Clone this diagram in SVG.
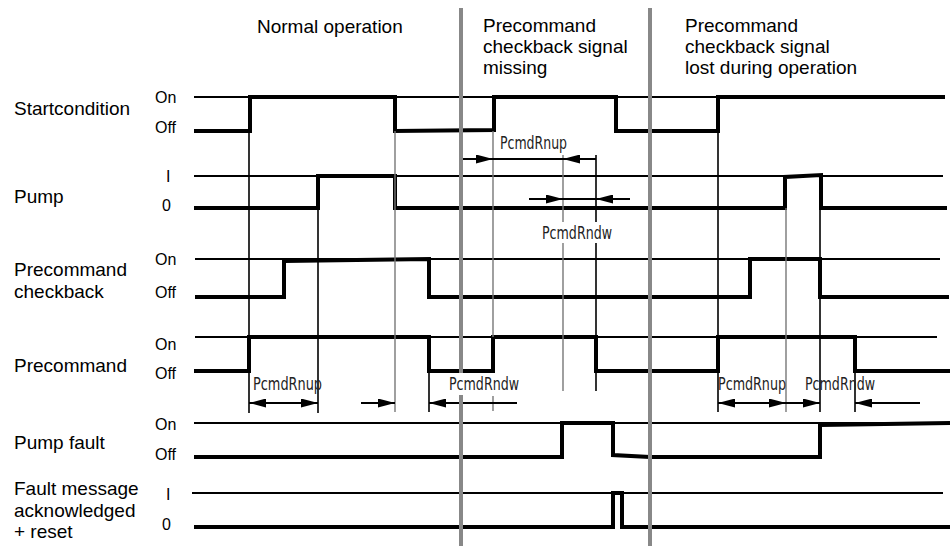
<svg xmlns="http://www.w3.org/2000/svg" width="950" height="546" viewBox="0 0 950 546">
<style>
text{font-family:"Liberation Sans",Arial,sans-serif;fill:#000}
.lab{font-size:19px}
.lvl{font-size:16px}
.par{font-family:"Liberation Sans Narrow","DejaVu Sans Condensed","Liberation Sans",sans-serif;font-size:18.5px;fill:#222}
.ref{stroke:#000;stroke-width:2;fill:none}
.sig{stroke:#000;stroke-width:4;fill:none;stroke-linejoin:miter;stroke-linecap:butt}
.gb{stroke:#000;stroke-width:1.6;fill:none}
.gg{stroke:#777;stroke-width:1.4;fill:none}
.arr{stroke:#000;stroke-width:2;fill:none}
.div{stroke:#888;stroke-width:4}
</style>
<defs>
<marker id="ah" viewBox="0 0 17 9" refX="17" refY="4.5" markerWidth="17" markerHeight="9" markerUnits="userSpaceOnUse" orient="auto-start-reverse">
<path d="M0,0 L17,4.5 L0,9 z" fill="#000"/>
</marker>
</defs>
<rect width="950" height="546" fill="#fff"/>

<g id="titles">
<text class="lab" x="257" y="33">Normal operation</text>
<text class="lab" x="483" y="32">Precommand</text>
<text class="lab" x="483" y="53">checkback signal</text>
<text class="lab" x="483" y="74">missing</text>
<text class="lab" x="685" y="32">Precommand</text>
<text class="lab" x="685" y="53">checkback signal</text>
<text class="lab" x="685" y="74">lost during operation</text>
</g>

<g id="startcondition">
<text class="lab" x="14" y="115">Startcondition</text>
<text class="lvl" x="155" y="103">On</text>
<text class="lvl" x="155" y="133">Off</text>
<line class="ref" x1="194" y1="97" x2="945" y2="97"/>
<path class="sig" d="M194,131 H250 V97 H395 V131 L494,130 V97 H616 V131 H718 V97 H945"/>
</g>

<g id="pump">
<text class="lab" x="14" y="203">Pump</text>
<text class="lvl" x="166" y="182">I</text>
<text class="lvl" x="162" y="211">0</text>
<line class="ref" x1="194" y1="176" x2="943" y2="176"/>
<path class="sig" d="M194,208 H318 V176 H395 V208 H785 V177 L821,175 V208 H947"/>
</g>

<g id="precommand-checkback">
<text class="lab" x="14" y="276">Precommand</text>
<text class="lab" x="14" y="298">checkback</text>
<text class="lvl" x="155" y="265">On</text>
<text class="lvl" x="155" y="298">Off</text>
<line class="ref" x1="195" y1="259" x2="940" y2="259"/>
<path class="sig" d="M195,297 H284 V261 L429,259 V297 H750 V259 H820 V297 H949"/>
</g>

<g id="precommand">
<text class="lab" x="14" y="372">Precommand</text>
<text class="lvl" x="155" y="350">On</text>
<text class="lvl" x="155" y="379">Off</text>
<line class="ref" x1="195" y1="337" x2="937" y2="337"/>
<path class="sig" d="M194,371 H249 V337 H429 V371 H493 V337 H596 V371 H718 V337 H855 V371 H950"/>
</g>

<g id="pump-fault">
<text class="lab" x="14" y="449">Pump fault</text>
<text class="lvl" x="155" y="430">On</text>
<text class="lvl" x="155" y="460">Off</text>
<line class="ref" x1="194" y1="423" x2="950" y2="423"/>
<path class="sig" d="M194,457 H562 V423 H613 V455 L650,457 H820 V425 L950,423"/>
</g>

<g id="fault-message">
<text class="lab" x="14" y="495">Fault message</text>
<text class="lab" x="14" y="517">acknowledged</text>
<text class="lab" x="14" y="538">+ reset</text>
<text class="lvl" x="166" y="500">I</text>
<text class="lvl" x="162" y="530">0</text>
<line class="ref" x1="192" y1="493" x2="943" y2="493"/>
<path class="sig" d="M194,527 H613 V493 H622 V527 H950"/>
</g>

<g id="connectors">
<g id="guides">
<line class="gb" x1="249" y1="131" x2="249" y2="413"/>
<line class="gb" x1="318" y1="176" x2="318" y2="413"/>
<line class="gb" x1="429" y1="371" x2="429" y2="412"/>
<line class="gb" x1="596" y1="155" x2="596" y2="337"/>
<line class="gb" x1="596" y1="371" x2="596" y2="391"/>
<line class="gb" x1="718" y1="131" x2="718" y2="412"/>
<line class="gb" x1="820" y1="208" x2="820" y2="412"/>
<line class="gb" x1="855" y1="371" x2="855" y2="412"/>
<line class="gg" x1="395" y1="131" x2="395" y2="412"/>
<line class="gg" x1="493" y1="131" x2="493" y2="337"/>
<line class="gg" x1="493" y1="396" x2="493" y2="411"/>
<line class="gg" x1="563" y1="155" x2="563" y2="391"/>
<line class="gg" x1="786" y1="208" x2="786" y2="412"/>
</g>
<g id="arrows">
<line class="arr" x1="249" y1="403" x2="318" y2="403" marker-start="url(#ah)" marker-end="url(#ah)"/>
<line class="arr" x1="361" y1="403" x2="395" y2="403" marker-end="url(#ah)"/>
<line class="arr" x1="517" y1="403" x2="429" y2="403" marker-end="url(#ah)"/>
<line class="arr" x1="463" y1="159" x2="493" y2="159" marker-end="url(#ah)"/>
<line class="arr" x1="493" y1="159" x2="563" y2="159"/>
<line class="arr" x1="596" y1="159" x2="563" y2="159" marker-end="url(#ah)"/>
<line class="arr" x1="529" y1="199" x2="563" y2="199" marker-end="url(#ah)"/>
<line class="arr" x1="563" y1="199" x2="596" y2="199"/>
<line class="arr" x1="630" y1="199" x2="596" y2="199" marker-end="url(#ah)"/>
<line class="arr" x1="718" y1="403" x2="786" y2="403" marker-start="url(#ah)" marker-end="url(#ah)"/>
<line class="arr" x1="786" y1="403" x2="820" y2="403" marker-end="url(#ah)"/>
<line class="arr" x1="920" y1="403" x2="855" y2="403" marker-end="url(#ah)"/>
</g>
</g>

<g id="dividers">
<line class="div" x1="461" y1="8" x2="461" y2="546"/>
<line class="div" x1="650" y1="8" x2="650" y2="546"/>
</g>

<g id="parameter-labels">
<text class="par" x="253" y="390" textLength="69" lengthAdjust="spacingAndGlyphs">PcmdRnup</text>
<rect x="447" y="373" width="74" height="22" fill="#fff"/>
<text class="par" x="449" y="390" textLength="70" lengthAdjust="spacingAndGlyphs">PcmdRndw</text>
<text class="par" x="500" y="149" textLength="67" lengthAdjust="spacingAndGlyphs">PcmdRnup</text>
<rect x="540" y="222" width="74" height="21" fill="#fff"/>
<text class="par" x="542" y="239" textLength="70" lengthAdjust="spacingAndGlyphs">PcmdRndw</text>
<text class="par" x="718" y="390" textLength="68" lengthAdjust="spacingAndGlyphs">PcmdRnup</text>
<text class="par" x="805" y="390" textLength="70" lengthAdjust="spacingAndGlyphs">PcmdRndw</text>
</g>
</svg>
